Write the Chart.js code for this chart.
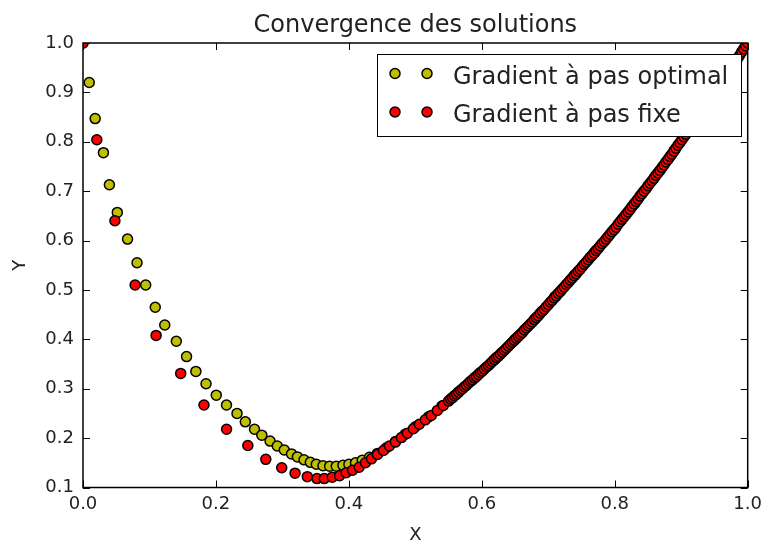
<!DOCTYPE html>
<html><head><meta charset="utf-8">
<script src="https://cdn.jsdelivr.net/npm/chart.js@4/dist/chart.umd.min.js"></script>
<style>html,body{margin:0;padding:0;background:#fff;}#wrap{width:768px;height:544px;}</style>
</head><body><div id="wrap"><canvas id="c" width="768" height="544"></canvas></div>
<script>
const chartTitle = "Convergence des solutions";
const xLabel = "X";
const yLabel = "Y";
const seriesNames = ["Gradient à pas optimal", "Gradient à pas fixe"];
const xTicks = [0.0, 0.2, 0.4, 0.6, 0.8, 1.0];
const yTicks = [0.1, 0.2, 0.3, 0.4, 0.5, 0.6, 0.7, 0.8, 0.9, 1.0];

// Gradient à pas optimal
const optX = [0.0, 0.0094, 0.0183, 0.0307, 0.0397, 0.0516, 0.067, 0.0813, 0.0943, 0.1087, 0.123, 0.1404, 0.1558, 0.1698, 0.1851, 0.2005, 0.2159, 0.2317, 0.2442, 0.258, 0.269, 0.2814, 0.2923, 0.3028, 0.3137, 0.3226, 0.3325, 0.342, 0.351, 0.361, 0.371, 0.381, 0.391, 0.400,
  0.410, 0.420, 0.431, 0.443, 0.456, 0.470, 0.485, 0.500, 0.520, 0.540, 0.565, 0.590, 0.620, 0.650, 0.680, 0.710, 0.740, 0.770, 0.800, 0.830, 0.860, 0.890, 0.920, 0.950, 0.975, 1.000];
const optY = [1.0, 0.920, 0.847, 0.778, 0.713, 0.657, 0.603, 0.555, 0.510, 0.465, 0.429, 0.396, 0.365, 0.335, 0.310, 0.287, 0.267, 0.250, 0.233, 0.218, 0.206, 0.194, 0.184, 0.176, 0.168, 0.162, 0.156, 0.151, 0.147, 0.144, 0.143, 0.143, 0.145, 0.147,
  0.150, 0.155, 0.161, 0.169, 0.180, 0.193, 0.208, 0.223, 0.243, 0.265, 0.293, 0.323, 0.360, 0.400, 0.441, 0.486, 0.530, 0.576, 0.624, 0.675, 0.728, 0.783, 0.840, 0.899, 0.949, 1.000];

// Gradient à pas fixe
const fixX = [0.0, 0.0208, 0.048, 0.0784, 0.110, 0.147, 0.182, 0.216, 0.248, 0.275, 0.299, 0.319, 0.3375, 0.352, 0.363, 0.375, 0.386, 0.396, 0.4055, 0.4155,
  0.425, 0.434, 0.443, 0.452, 0.461, 0.470, 0.479, 0.488, 0.497, 0.506, 0.515, 0.524, 0.533, 0.542, 0.550,
  0.553, 0.556, 0.559, 0.562, 0.565, 0.568, 0.571, 0.574, 0.577, 0.580, 0.583, 0.586, 0.589, 0.592, 0.595, 0.598,
  0.601, 0.604, 0.607, 0.610, 0.613, 0.616, 0.619, 0.622, 0.625, 0.628, 0.631, 0.634, 0.637, 0.640, 0.643, 0.646, 0.649,
  0.652, 0.655, 0.658, 0.661, 0.664, 0.667, 0.670, 0.673, 0.676, 0.679, 0.682, 0.685, 0.688, 0.691, 0.694, 0.697, 0.700,
  0.703, 0.706, 0.709, 0.712, 0.715, 0.718, 0.721, 0.724, 0.727, 0.730, 0.733, 0.736, 0.739, 0.742, 0.745, 0.748, 0.751,
  0.754, 0.757, 0.760, 0.763, 0.766, 0.769, 0.772, 0.775, 0.778, 0.781, 0.784, 0.787, 0.790, 0.793, 0.796, 0.799,
  0.802, 0.805, 0.808, 0.811, 0.814, 0.817, 0.820, 0.823, 0.826, 0.829, 0.832, 0.835, 0.838, 0.841, 0.844, 0.847, 0.850,
  0.853, 0.856, 0.859, 0.862, 0.865, 0.868, 0.871, 0.874, 0.877, 0.880, 0.883, 0.886, 0.889, 0.892, 0.895, 0.898,
  0.901, 0.904, 0.907, 0.910, 0.913, 0.916, 0.919, 0.922, 0.925, 0.928, 0.931, 0.934, 0.937, 0.940, 0.943, 0.946, 0.949,
  0.952, 0.955, 0.958, 0.961, 0.964, 0.967, 0.970, 0.973, 0.976, 0.979, 0.982, 0.985, 0.988, 0.991, 0.994, 0.997, 1.000];
const fixY = [1.0, 0.804, 0.640, 0.510, 0.408, 0.331, 0.267, 0.218, 0.185, 0.157, 0.140, 0.129, 0.122, 0.118, 0.118, 0.121, 0.124, 0.130, 0.135, 0.141,
  0.150, 0.158, 0.167, 0.175, 0.184, 0.192, 0.201, 0.210, 0.219, 0.228, 0.237, 0.246, 0.256, 0.266, 0.275,
  0.279, 0.282, 0.286, 0.289, 0.293, 0.297, 0.300, 0.304, 0.307, 0.311, 0.315, 0.318, 0.322, 0.325, 0.329, 0.333,
  0.336, 0.340, 0.344, 0.347, 0.351, 0.355, 0.359, 0.363, 0.366, 0.370, 0.374, 0.378, 0.382, 0.386, 0.390, 0.394, 0.398,
  0.402, 0.406, 0.410, 0.414, 0.419, 0.423, 0.427, 0.431, 0.435, 0.440, 0.444, 0.448, 0.453, 0.457, 0.461, 0.466, 0.470,
  0.475, 0.479, 0.484, 0.488, 0.493, 0.497, 0.502, 0.506, 0.511, 0.515, 0.520, 0.524, 0.529, 0.533, 0.538, 0.542, 0.547,
  0.552, 0.556, 0.561, 0.566, 0.570, 0.575, 0.580, 0.584, 0.589, 0.594, 0.598, 0.603, 0.608, 0.613, 0.618, 0.622,
  0.627, 0.633, 0.638, 0.643, 0.648, 0.653, 0.658, 0.663, 0.669, 0.674, 0.679, 0.684, 0.690, 0.695, 0.700, 0.705, 0.711,
  0.716, 0.721, 0.726, 0.732, 0.737, 0.742, 0.748, 0.753, 0.759, 0.764, 0.770, 0.775, 0.781, 0.787, 0.793, 0.798,
  0.804, 0.810, 0.815, 0.821, 0.827, 0.832, 0.838, 0.844, 0.850, 0.856, 0.861, 0.867, 0.873, 0.879, 0.885, 0.891, 0.897,
  0.903, 0.909, 0.915, 0.921, 0.927, 0.933, 0.939, 0.945, 0.951, 0.957, 0.963, 0.969, 0.975, 0.982, 0.988, 0.994, 1.000];

const seriesColors = ["#bfbf00", "#ff0000"];
const FONT = "DejaVu Sans";

function pts(xs, ys) { return xs.map((x, i) => ({ x: x, y: ys[i] })); }

const decor = {
  id: 'decor',
  afterDatasetsDraw(chart) {
    const ctx = chart.ctx;
    const a = chart.chartArea;
    const xs = chart.scales.x, ys = chart.scales.y;
    ctx.save();
    ctx.strokeStyle = '#000';
    ctx.lineWidth = 1;
    const tl = 7;
    xTicks.forEach(v => {
      const p = Math.round(xs.getPixelForValue(v)) + 0.5;
      ctx.beginPath();
      ctx.moveTo(p, a.bottom); ctx.lineTo(p, a.bottom - tl);
      ctx.moveTo(p, a.top); ctx.lineTo(p, a.top + tl);
      ctx.stroke();
    });
    yTicks.forEach(v => {
      const p = Math.round(ys.getPixelForValue(v)) + 0.5;
      ctx.beginPath();
      ctx.moveTo(a.left, p); ctx.lineTo(a.left + tl, p);
      ctx.moveTo(a.right, p); ctx.lineTo(a.right - tl, p);
      ctx.stroke();
    });
    ctx.lineWidth = 1.5;
    ctx.strokeRect(a.left, a.top, a.right - a.left, a.bottom - a.top);

    // legend
    const lx = 377.5, ly = 54.5, lw = 364, lh = 82;
    ctx.fillStyle = '#fff';
    ctx.fillRect(lx, ly, lw, lh);
    ctx.lineWidth = 1;
    ctx.strokeStyle = '#000';
    ctx.strokeRect(lx, ly, lw, lh);
    const rows = [73.5, 112];
    const bases = [83.5, 122];
    seriesNames.forEach((name, i) => {
      [395, 427].forEach(mx => {
        ctx.beginPath();
        ctx.arc(mx, rows[i], 5, 0, Math.PI * 2);
        ctx.fillStyle = seriesColors[i];
        ctx.fill();
        ctx.lineWidth = 1.5;
        ctx.strokeStyle = '#000';
        ctx.stroke();
      });
      ctx.fillStyle = '#222';
      ctx.font = '24px "' + FONT + '"';
      ctx.textAlign = 'left';
      ctx.textBaseline = 'alphabetic';
      ctx.fillText(name, 453, bases[i]);
    });

    ctx.fillStyle = '#222';
    ctx.font = '24px "' + FONT + '"';
    ctx.textAlign = 'center';
    ctx.textBaseline = 'alphabetic';
    ctx.fillText(chartTitle, (a.left + a.right) / 2, 31.5);

    ctx.font = '18px "' + FONT + '"';
    ctx.fillText(xLabel, (a.left + a.right) / 2, 540);
    ctx.save();
    ctx.translate(25, (a.top + a.bottom) / 2);
    ctx.rotate(-Math.PI / 2);
    ctx.fillText(yLabel, 0, 0);
    ctx.restore();
    ctx.restore();
  }
};

new Chart(document.getElementById('c'), {
  type: 'scatter',
  data: {
    datasets: [
      { label: seriesNames[0], data: pts(optX, optY), order: 1, clip: 0,
        pointRadius: 5, pointBackgroundColor: seriesColors[0], pointBorderColor: '#000', pointBorderWidth: 1.5,
        backgroundColor: seriesColors[0], borderColor: '#000', showLine: false },
      { label: seriesNames[1], data: pts(fixX, fixY), order: 0, clip: 0,
        pointRadius: 5, pointBackgroundColor: seriesColors[1], pointBorderColor: '#000', pointBorderWidth: 1.5,
        backgroundColor: seriesColors[1], borderColor: '#000', showLine: false }
    ]
  },
  options: {
    responsive: false,
    animation: false,
    devicePixelRatio: 1,
    layout: { padding: { left: 0, right: 14, top: 43, bottom: 0 } },
    plugins: { legend: { display: false }, title: { display: false }, tooltip: { enabled: false } },
    scales: {
      x: {
        type: 'linear', min: 0, max: 1,
        afterBuildTicks: s => { s.ticks = xTicks.map(v => ({ value: v })); },
        afterFit: s => { s.height = 56.5; },
        grid: { display: false, drawTicks: false },
        border: { display: false },
        ticks: { callback: v => Number(v).toFixed(1), font: { family: FONT, size: 18 }, color: '#222', padding: 6, maxRotation: 0, autoSkip: false }
      },
      y: {
        type: 'linear', min: 0.1, max: 1.0,
        afterBuildTicks: s => { s.ticks = yTicks.map(v => ({ value: v })); },
        afterFit: s => { s.width = 83; },
        grid: { display: false, drawTicks: false },
        border: { display: false },
        ticks: { callback: v => Number(v).toFixed(1), font: { family: FONT, size: 18 }, color: '#222', padding: 9, autoSkip: false }
      }
    }
  },
  plugins: [decor]
});
</script>
</body></html>
